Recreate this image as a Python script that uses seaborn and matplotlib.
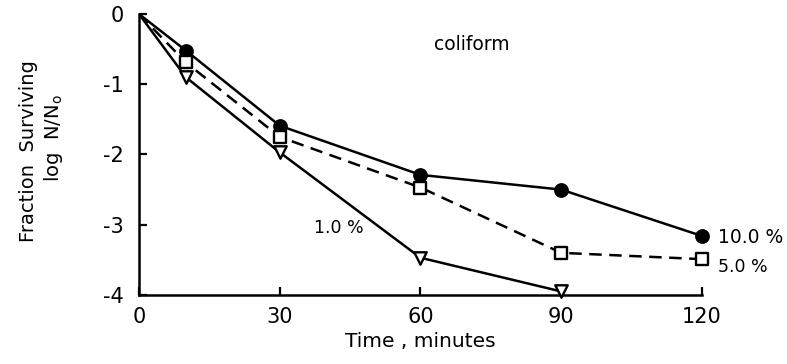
import matplotlib
matplotlib.use("Agg")
import matplotlib.pyplot as plt
import seaborn as sns
import pandas as pd

sns.set_theme(style="white")
plt.rcParams['font.family'] = ['DejaVu Sans']
plt.rcParams['text.color'] = 'black'
plt.rcParams['axes.labelcolor'] = 'black'
plt.rcParams['xtick.color'] = 'black'
plt.rcParams['ytick.color'] = 'black'

time_10 = [0, 10, 30, 60, 90, 120]
logsurv_10 = [0.0, -0.52, -1.59, -2.29, -2.50, -3.16]
time_5 = [0, 10, 30, 60, 90, 120]
logsurv_5 = [0.0, -0.69, -1.75, -2.47, -3.40, -3.49]
time_1 = [0, 10, 30, 60, 90]
logsurv_1 = [0.0, -0.90, -1.97, -3.47, -3.95]

series = [
    ("10.0 %", time_10, logsurv_10, "o", "black", "-"),
    ("5.0 %", time_5, logsurv_5, "s", "white", (0, (5, 3))),
    ("1.0 %", time_1, logsurv_1, "v", "white", "-"),
]

fig = plt.figure(figsize=(7.87, 3.64), dpi=100)
ax = fig.add_axes([0.1766, 0.1896, 0.7154, 0.7719])

for name, t, v, mk, fc, ls in series:
    df = pd.DataFrame({"t": t, "v": v})
    sns.lineplot(data=df, x="t", y="v", ax=ax, color="black", lw=1.8,
                 linestyle=ls, sort=False)
    sub = df[df["t"] > 0]
    sns.scatterplot(data=sub, x="t", y="v", ax=ax, marker=mk, s=80,
                    facecolor=fc, edgecolor="black", linewidth=1.7,
                    zorder=5, clip_on=False)

ax.set_xlim(0, 120)
ax.set_ylim(-4, 0)
ax.set_xticks([0, 30, 60, 90, 120])
ax.set_yticks([0, -1, -2, -3, -4])
ax.set_yticklabels(["0", "-1", "-2", "-3", "-4"])
for s in ["top", "right"]:
    ax.spines[s].set_visible(False)
for s in ["left", "bottom"]:
    ax.spines[s].set_color("black")
    ax.spines[s].set_linewidth(1.8)
ax.tick_params(axis="both", direction="in", length=6, width=1.6,
               colors="black", labelsize=15, pad=9,
               left=True, bottom=True)
ax.tick_params(axis="y", pad=11)
ax.set_xlabel("Time , minutes", fontsize=14.5, labelpad=3, color="black")
ax.set_ylabel("")

fig.text(0.036, 0.585, "Fraction  Surviving", rotation=90, fontsize=14,
         ha="center", va="center", color="black")
fig.text(0.068, 0.62, "log  N/N$_\\mathregular{o}$", rotation=90, fontsize=14,
         ha="center", va="center", color="black")

ax.text(71, -0.43, "coliform", fontsize=13.5, ha="center", va="center", color="black")
ax.text(42.5, -3.05, "1.0 %", fontsize=12.5, ha="center", va="center", color="black")
ax.text(123.5, -3.18, "10.0 %", fontsize=13.5, ha="left", va="center",
        clip_on=False, color="black")
ax.text(123.5, -3.6, "5.0 %", fontsize=12.5, ha="left", va="center",
        clip_on=False, color="black")

fig.savefig("out.png", dpi=100, facecolor="white")
